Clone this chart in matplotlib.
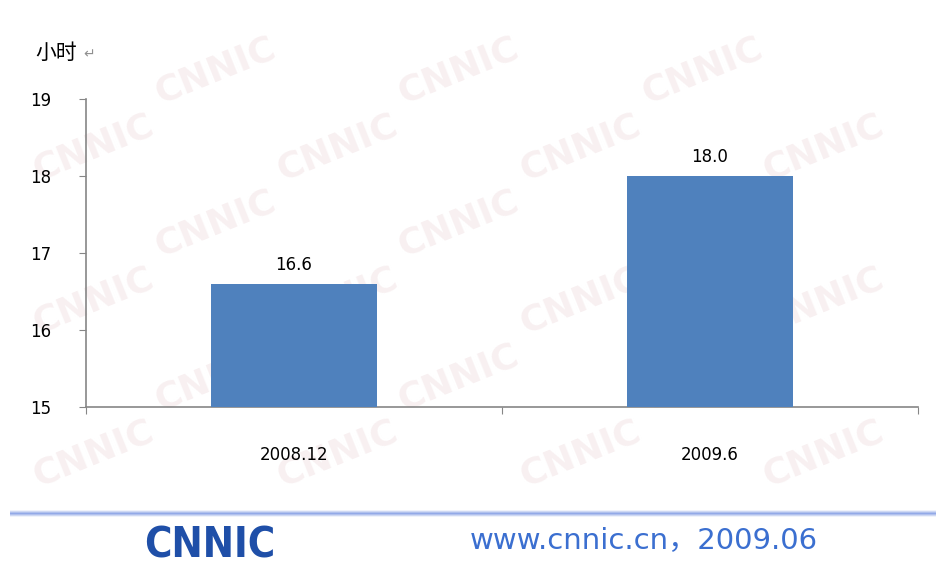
import matplotlib.pyplot as plt
import numpy as np
from matplotlib.colors import LinearSegmentedColormap

# data
periods = ['2008.12', '2009.6']
hours = [16.6, 18.0]
yticks = [15, 16, 17, 18, 19]

plt.rcParams['font.family'] = ['DejaVu Sans', 'Noto Sans CJK SC']

fig = plt.figure(figsize=(9.36, 5.67), dpi=100)

# faint watermark behind everything (kept inside the figure)
for row, wy in enumerate(np.arange(0.20, 0.92, 0.135)):
    off = 0.13 if row % 2 else 0
    for wx in np.arange(0.1, 0.95, 0.26):
        if wx + off > 0.92:
            continue
        fig.text(wx + off, wy, 'CNNIC', fontsize=26, fontweight='bold',
                 color='#f8f0f1', rotation=22, ha='center', va='center',
                 zorder=-5)

ax = fig.add_axes([86 / 936, 1 - 407 / 567, 832 / 936, 308 / 567])
ax.patch.set_alpha(0)

x = np.arange(len(periods))
bars = ax.bar(x, hours, width=0.4, color='#4f81bd', zorder=3)
ax.set_xlim(-0.5, 1.5)
ax.set_ylim(15, 19)
ax.set_yticks(yticks)

for xi, v in zip(x, hours):
    ax.text(xi, v + 0.13, '%.1f' % v, ha='center', va='bottom', fontsize=12)

ax.set_xticks([-0.5, 0.5, 1.5])
ax.set_xticklabels([])
ax.set_xticks(x, minor=True)
ax.set_xticklabels(periods, minor=True)
ax.tick_params(axis='x', which='minor', length=0, pad=28, labelsize=12)
ax.tick_params(axis='x', which='major', length=5, color='#868686')
ax.tick_params(axis='y', length=5, color='#868686', labelsize=12, pad=20)

for s in ['top', 'right']:
    ax.spines[s].set_visible(False)
for s in ['left', 'bottom']:
    ax.spines[s].set_color('#868686')
    ax.spines[s].set_linewidth(1.2)

fig.text(35 / 936, 1 - 53 / 567, '小时', fontsize=15, va='center', ha='left',
         family=['Noto Sans CJK SC'])
fig.text(83 / 936, 1 - 54 / 567, '↵', fontsize=10, va='center', ha='left',
         color='#909090')

# footer line and branding
line_ax = fig.add_axes([10 / 936, 1 - 517 / 567, 926 / 936, 7 / 567])
cmap = LinearSegmentedColormap.from_list('band', ['#8ea6e6', '#ffffff'])
grad = np.abs(np.linspace(-1, 1, 9)).reshape(-1, 1)
line_ax.imshow(grad, aspect='auto', cmap=cmap, extent=[0, 1, 0, 1],
               vmin=0, vmax=1.1)
line_ax.axis('off')

fig.text(210 / 936, 1 - 546 / 567, 'CNNIC', fontsize=30, fontweight='bold',
         color='#1f4fa8', ha='center', va='center', fontstretch='condensed')
fig.text(470 / 936, 1 - 540 / 567, 'www.cnnic.cn，2009.06', fontsize=21,
         color='#3b6fd0', ha='left', va='center')

fig.savefig('out.png', dpi=100)
